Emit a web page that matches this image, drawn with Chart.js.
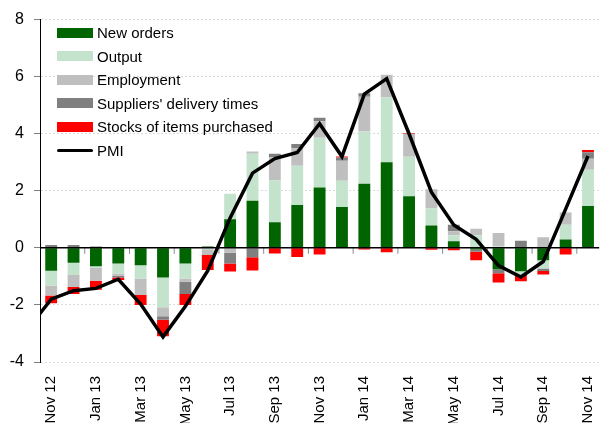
<!DOCTYPE html>
<html>
<head>
<meta charset="utf-8">
<script src="https://cdn.jsdelivr.net/npm/chart.js@4.4.1/dist/chart.umd.min.js"></script>
<style>
  html, body { margin: 0; padding: 0; background: #fff; overflow: hidden; }
  #wrap { position: relative; width: 612px; height: 423px; }
  #legend {
    position: absolute; left: 57px; top: 21px;
    font: 15px "Liberation Sans", Arial, sans-serif; color: #000;
  }
  .item { display: flex; align-items: center; height: 23.5px; white-space: nowrap; }
  .swatch { width: 36px; height: 10px; margin-right: 4px; }
  .swatch.line { height: 3.5px; border-radius: 2px; }
</style>
</head>
<body>
<div id="wrap">
  <canvas id="pmiChart" width="612" height="423"></canvas>
  <div id="legend"></div>
</div>
<script>
  // Months shown on the x axis (labels on every second one)
  const months = [
    "Nov 12", "Dec 12", "Jan 13", "Feb 13", "Mar 13", "Apr 13", "May 13",
    "Jun 13", "Jul 13", "Aug 13", "Sep 13", "Oct 13", "Nov 13", "Dec 13",
    "Jan 14", "Feb 14", "Mar 14", "Apr 14", "May 14", "Jun 14", "Jul 14",
    "Aug 14", "Sep 14", "Oct 14", "Nov 14"
  ];

  // Contributions
  const newOrders = [-0.8, -0.52, -0.64, -0.55, -0.61, -1.04, -0.55, 0.05, 1.0, 1.65, 0.9, 1.5, 2.12,
    1.43, 2.25, 3.0, 1.81, 0.78, 0.23, -0.06, -0.75, -0.82, -0.43, 0.29, 1.47];
  const output = [-0.52, -0.43, -0.05, -0.35, -0.46, -1.04, -0.52, -0.05, 0.9, 1.65, 1.46, 1.38, 1.74,
    0.92, 1.83, 2.27, 1.38, 0.6, 0.21, 0.44, 0.05, -0.12, -0.29, 0.52, 1.27];
  const employment = [-0.35, -0.42, -0.46, -0.08, -0.58, -0.32, -0.12, -0.2, -0.17, 0.08, 0.82, 0.61, 0.58,
    0.7, 1.22, 0.8, 0.81, 0.67, 0.14, 0.23, 0.47, 0, 0.37, 0.43, 0.38];
  const suppliers = [0.1, 0.1, 0.05, -0.06, 0, -0.12, -0.43, 0, -0.38, -0.33, 0.12, 0.15, 0.12,
    0.12, 0.12, 0, 0, 0, 0.23, -0.08, -0.14, 0.25, -0.09, 0, 0.23];
  const stocks = [-0.27, -0.25, -0.32, -0.09, -0.35, -0.58, -0.38, -0.53, -0.28, -0.46, -0.2, -0.32, -0.23,
    0.03, -0.06, -0.15, 0.03, -0.07, -0.08, -0.29, -0.32, -0.23, -0.12, -0.23, 0.08];

  // PMI line, plus the month before the first bar (only its tail is visible)
  const pmiPrev = -2.8;
  const pmi = [-1.8, -1.5, -1.42, -1.1, -1.97, -3.12, -2.05, -0.8, 1.05, 2.62, 3.13, 3.34, 4.35,
    3.2, 5.39, 5.93, 4.0, 1.95, 0.8, 0.3, -0.62, -1.02, -0.48, 1.36, 3.22];

  const yTicks = { min: -4, max: 8, step: 2 };

  const FONT = "'Liberation Sans', Arial, sans-serif";

  // zero line and the little x tick marks hanging from it
  const zeroLine = {
    id: "zeroLine",
    afterDatasetDraw(chart, args) {
      if (args.index !== 0) return;
      const { ctx, chartArea, scales } = chart;
      const y0 = scales.y.getPixelForValue(0);
      ctx.save();
      ctx.strokeStyle = "#8c8c8c";
      ctx.lineWidth = 1;
      for (let i = 1; i < months.length - 1; i += 2) {
        const x = (scales.x.getPixelForValue(i) + scales.x.getPixelForValue(i + 1)) / 2;
        ctx.beginPath();
        ctx.moveTo(x, y0);
        ctx.lineTo(x, y0 + 6);
        ctx.stroke();
      }
      ctx.strokeStyle = "#000";
      ctx.lineWidth = 1.5;
      ctx.beginPath();
      ctx.moveTo(chartArea.left, y0);
      ctx.lineTo(chartArea.right, y0);
      ctx.stroke();
      ctx.restore();
    }
  };

  function barSet(label, data, color) {
    return {
      type: "bar",
      label: label,
      data: data,
      backgroundColor: color,
      borderWidth: 0,
      grouped: false,
      categoryPercentage: 1,
      barPercentage: 0.53,
      order: 1
    };
  }

  const ctx = document.getElementById("pmiChart").getContext("2d");
  const pmiChart = new Chart(ctx, {
    data: {
      labels: months,
      datasets: [
        barSet("New orders", newOrders, "#006400"),
        barSet("Output", output, "#c4e3cd"),
        barSet("Employment", employment, "#bfbfbf"),
        barSet("Suppliers' delivery times", suppliers, "#808080"),
        barSet("Stocks of items purchased", stocks, "#ff0000"),
        {
          type: "line",
          label: "PMI",
          data: [{ x: -1, y: pmiPrev }].concat(pmi.map((v, i) => ({ x: i, y: v }))),
          xAxisID: "x2",
          stack: "pmi",
          borderColor: "#000",
          backgroundColor: "#000",
          borderWidth: 3.5,
          pointRadius: 0,
          tension: 0,
          order: 0
        }
      ]
    },
    options: {
      responsive: false,
      animation: false,
      layout: { padding: { top: 15, right: 0, bottom: 0, left: 0 } },
      plugins: {
        legend: { display: false },
        tooltip: { enabled: false }
      },
      scales: {
        x: {
          stacked: true,
          offset: true,
          grid: { display: false },
          border: { display: false },
          ticks: {
            autoSkip: false,
            minRotation: 90,
            maxRotation: 90,
            padding: 6,
            color: "#000",
            font: { family: FONT, size: 15 },
            callback: (val, i) => (i % 2 === 0 ? months[i] : "")
          },
          afterFit: (scale) => { scale.height = 61; }
        },
        x2: {
          type: "linear",
          display: false,
          min: -0.5,
          max: months.length - 0.5
        },
        y: {
          stacked: true,
          min: yTicks.min,
          max: yTicks.max,
          grid: {
            color: "#d9d9d9",
            tickColor: "#808080",
            tickLength: 6,
            tickBorderDash: []
          },
          border: { color: "#000", width: 1, dash: [2, 2] },
          ticks: {
            stepSize: yTicks.step,
            padding: 10,
            color: "#000",
            font: { family: FONT, size: 16 }
          },
          afterFit: (scale) => { scale.width = 40; }
        }
      }
    },
    plugins: [zeroLine]
  });

  // legend inside the plot, built from the chart's datasets
  const legendBox = document.getElementById("legend");
  pmiChart.data.datasets.forEach((ds) => {
    const isLine = ds.type === "line";
    legendBox.innerHTML += `
      <div class="item">
        <span class="swatch${isLine ? " line" : ""}" style="background:${isLine ? ds.borderColor : ds.backgroundColor}"></span>
        <span>${ds.label}</span>
      </div>`;
  });
</script>
</body>
</html>
